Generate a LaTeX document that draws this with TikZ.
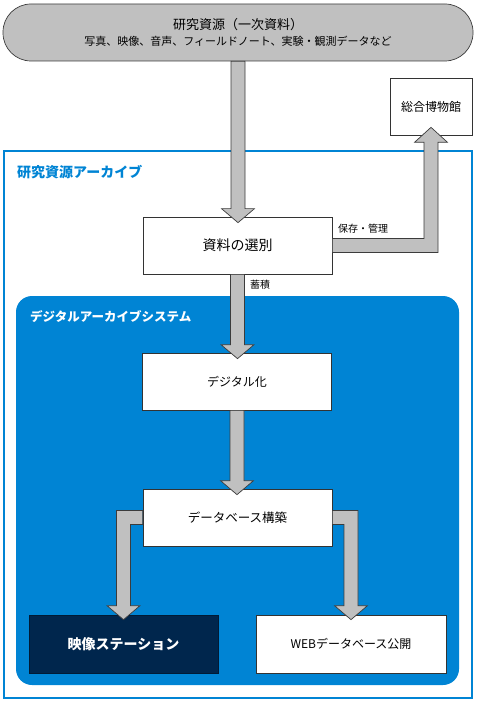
\documentclass[tikz,border=0pt]{standalone}
\usepackage{fontspec}
\setmainfont{Noto Sans CJK JP}
\usetikzlibrary{calc}
\definecolor{archblue}{RGB}{0,132,212}
\definecolor{stanavy}{RGB}{0,38,77}
\definecolor{arrowgray}{RGB}{192,192,192}
\definecolor{edgegray}{RGB}{60,60,60}

\begin{document}
\begin{tikzpicture}[x=1pt,y=-1pt,
                    every node/.style={inner sep=0pt},
                    srcbox/.style={draw=edgegray,fill=arrowgray,line width=0.7pt,rounded corners=28pt,
                                   minimum width=470pt,minimum height=57pt,align=center},
                    box/.style={draw=black!80,fill=white,line width=0.7pt,minimum width=189pt,minimum height=57pt},
                    fat/.style={draw=edgegray,fill=arrowgray,line width=0.7pt}]
                    \useasboundingbox (0,0) rectangle (476,703);
                    \draw [archblue,line width=2pt] (3.5,151.5) rectangle (471.5,697.5);
                    \fill [archblue,rounded corners=16pt] (16,296) rectangle (459,685);
                    \node [srcbox] (src) at (238,32.5) {\fontsize{13}{15}\selectfont 研究資源（一次資料）\\[4pt]
                                                        \fontsize{11}{13}\selectfont 写真、映像、音声、フィールドノート、実験・観測データなど};
                    \node [box,minimum width=82pt] (mus) at (431,106.5) {\fontsize{12}{14}\selectfont 総合博物館};
                    \node [box] (sel) at (237.5,245.5) {\fontsize{14}{16}\selectfont 資料の選別};
                    \node [box] (dig) at (237,381.5) {\fontsize{12}{14}\selectfont デジタル化};
                    \node [box] (db) at (237.5,517.5) {\fontsize{12.5}{14}\selectfont データベース構築};
                    \node [box,fill=stanavy,draw=stanavy!70!black,text=white,minimum height=58pt] (sta) at (123.5,644)
                          {\fontsize{14}{16}\selectfont\bfseries 映像ステーション};
                    \node [box,minimum width=190pt,minimum height=58pt] (web) at (351,644) {\fontsize{12}{14}\selectfont WEBデータベース公開};
                    \draw [fat] ($(src.south)+(-7,0)$) -- ($(src.south |- sel.north)+(-7,-8)$) -- ++(-9.5,0)
                          -- ($(src.south |- sel.north)+(0,6)$) -- ($(src.south |- sel.north)+(16.5,-8)$) -- ++(-9.5,0)
                          -- ($(src.south)+(7,0)$) -- cycle;
                    \draw [fat] ($(sel.east)+(0,-7)$) -- ($(sel.east -| mus.south)+(-7,-7)$) -- ($(mus.south)+(-7,7)$) -- ++(-9.5,0)
                          -- ($(mus.south)+(0,-8)$) -- ($(mus.south)+(16.5,7)$) -- ++(-9.5,0)
                          -- ($(sel.east -| mus.south)+(7,7)$) -- ($(sel.east)+(0,7)$) -- cycle;
                    \draw [fat] ($(sel.south)+(-7,0)$) -- ($(sel.south |- dig.north)+(-7,-8)$) -- ++(-9.5,0)
                          -- ($(sel.south |- dig.north)+(0,6)$) -- ($(sel.south |- dig.north)+(16.5,-8)$) -- ++(-9.5,0)
                          -- ($(sel.south)+(7,0)$) -- cycle;
                    \draw [fat] ($(dig.south)+(-7,0)$) -- ($(dig.south |- db.north)+(-7,-8)$) -- ++(-9.5,0)
                          -- ($(dig.south |- db.north)+(0,6)$) -- ($(dig.south |- db.north)+(16.5,-8)$) -- ++(-9.5,0)
                          -- ($(dig.south)+(7,0)$) -- cycle;
                    \draw [fat] ($(db.west)+(0,-7)$) -- ($(db.west -| sta.north)+(-7,-7)$) -- ($(sta.north)+(-7,-9)$) -- ++(-9.5,0)
                          -- ($(sta.north)+(0,5)$) -- ($(sta.north)+(16.5,-9)$) -- ++(-9.5,0)
                          -- ($(db.west -| sta.north)+(7,7)$) -- ($(db.west)+(0,7)$) -- cycle;
                    \draw [fat] ($(db.east)+(0,-7)$) -- ($(db.east -| web.north)+(7,-7)$) -- ($(web.north)+(7,-9)$) -- ++(9.5,0)
                          -- ($(web.north)+(0,5)$) -- ($(web.north)+(-16.5,-9)$) -- ++(9.5,0)
                          -- ($(db.east -| web.north)+(-7,7)$) -- ($(db.east)+(0,7)$) -- cycle;
                    \node [anchor=west,text=archblue] (archlbl) at (17,172) {\fontsize{14}{16}\selectfont\bfseries 研究資源アーカイブ};
                    \node [anchor=west,text=white] (syslbl) at (30,317) {\fontsize{12.5}{15}\selectfont\bfseries デジタルアーカイブシステム};
                    \node [anchor=west] (keep) at (338,229) {\fontsize{10}{12}\selectfont 保存・管理};
                    \node [anchor=west] (store) at (250,285) {\fontsize{10}{12}\selectfont 蓄積};
\end{tikzpicture}
\end{document}
